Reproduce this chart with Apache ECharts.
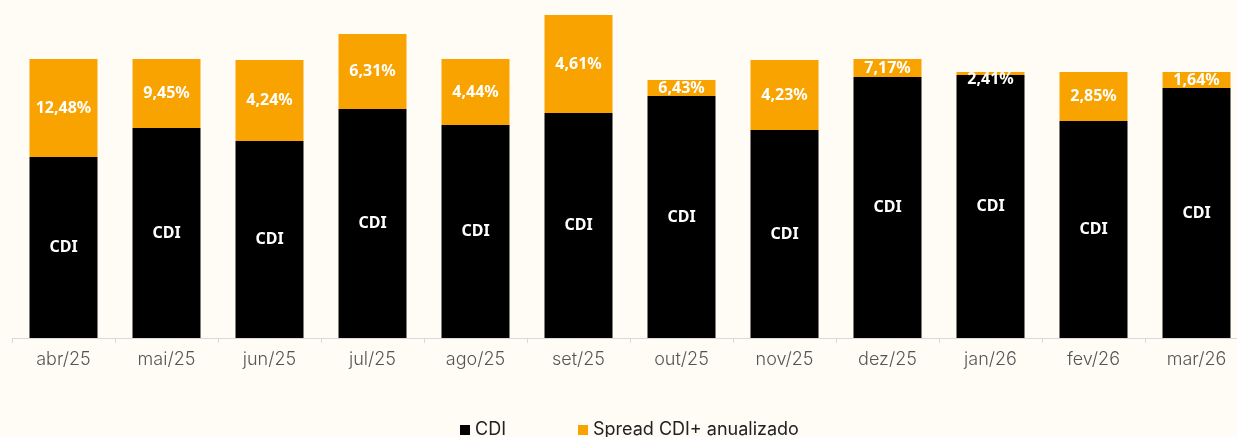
<!DOCTYPE html>
<html>
<head>
<meta charset="utf-8">
<script src="https://cdn.jsdelivr.net/npm/echarts@6/dist/echarts.min.js"></script>
<style>
  html, body { margin: 0; padding: 0; background: #fffcf5; overflow: hidden; }
  #chart_1 { width: 1248px; height: 437px; }
</style>
</head>
<body>
<div id="chart_1"></div>
<script>
// meses
var months = ['abr/25', 'mai/25', 'jun/25', 'jul/25', 'ago/25', 'set/25', 'out/25', 'nov/25', 'dez/25', 'jan/26', 'fev/26', 'mar/26'];
var cdi = [1.81, 2.10, 1.97, 2.29, 2.13, 2.25, 2.42, 2.08, 2.61, 2.63, 2.17, 2.50];
var spread = [0.98, 0.69, 0.81, 0.75, 0.66, 0.98, 0.16, 0.70, 0.18, 0.03, 0.49, 0.16];
// rótulos do spread anualizado
var spreadLabels = ['12,48%', '9,45%', '4,24%', '6,31%', '4,44%', '4,61%', '6,43%', '4,23%', '7,17%', '2,41%', '2,85%', '1,64%'];

(function () {
    var myChart = echarts.init(document.getElementById('chart_1'));
    var labelFont = {
        show: true,
        position: 'inside',
        color: '#fff',
        fontFamily: 'Noto Sans',
        fontWeight: 'bold',
        fontSize: 16
    };
    // segmento muito fino: rótulo desce para dentro da barra preta
    var spreadData = spread.map(function (v) {
        return v < 0.1 ? { value: v, label: { offset: [0, 6] } } : v;
    });
    var option = {
        backgroundColor: '#fffcf5',
        animation: false,
        grid: { left: 12, top: 0, bottom: 99, right: 0 },
        legend: {
            top: 416,
            left: 455,
            icon: 'rect',
            itemWidth: 10,
            itemHeight: 10,
            itemGap: 72,
            textStyle: { fontFamily: 'Inter', fontSize: 18, color: '#222' },
            data: ['CDI', 'Spread CDI+ anualizado']
        },
        xAxis: {
            type: 'category',
            data: months,
            axisLine: { lineStyle: { color: '#d9d9d9', width: 1 } },
            axisTick: { show: true, length: 5, lineStyle: { color: '#d9d9d9' } },
            axisLabel: { margin: 13, fontFamily: 'Inter', fontWeight: 300, fontSize: 18, color: '#555' }
        },
        yAxis: {
            type: 'value',
            min: 0,
            max: 3.38,
            show: false,
            splitLine: { show: false }
        },
        series: [
            {
                name: 'CDI',
                type: 'bar',
                stack: 'total',
                barWidth: 68,
                data: cdi,
                itemStyle: { color: '#000' },
                label: Object.assign({}, labelFont, { formatter: 'CDI' })
            },
            {
                name: 'Spread CDI+ anualizado',
                type: 'bar',
                stack: 'total',
                barWidth: 68,
                data: spreadData,
                itemStyle: { color: '#f9a300' },
                label: Object.assign({}, labelFont, {
                    formatter: function (p) { return spreadLabels[p.dataIndex]; }
                })
            }
        ]
    };
    myChart.setOption(option);
    window.addEventListener('resize', function () {
        myChart.resize();
    });
})();
</script>
</body>
</html>
